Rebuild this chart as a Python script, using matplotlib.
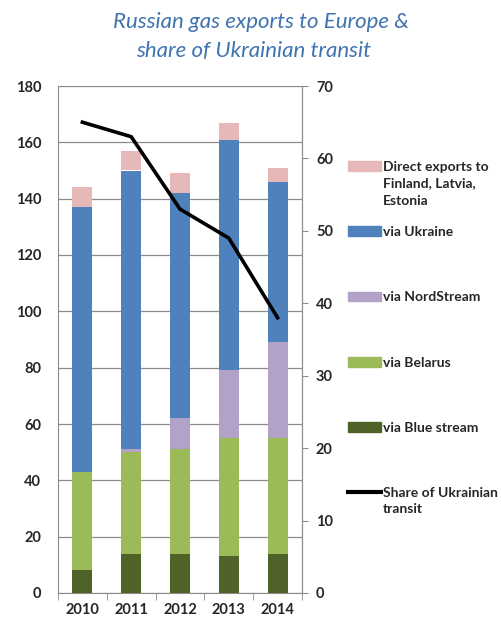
import matplotlib
matplotlib.use("Agg")
import matplotlib.pyplot as plt
from matplotlib.patches import Patch
from matplotlib.lines import Line2D

plt.rcParams['font.family'] = ['Lato', 'DejaVu Sans']

years = ['2010', '2011', '2012', '2013', '2014']
# bcm
blue_stream = [8, 14, 14, 13, 14]
belarus = [35, 36, 37, 42, 41]
nordstream = [0, 1, 11, 24, 34]
ukraine = [94, 99, 80, 82, 57]
direct = [7, 7, 7, 6, 5]
# share of Ukrainian transit, % (right axis)
share_ukraine = [65, 63, 53, 49, 38]

series = [
    (blue_stream, '#4F6228', 'via Blue stream'),
    (belarus, '#9BBB59', 'via Belarus'),
    (nordstream, '#B3A2C7', 'via NordStream'),
    (ukraine, '#4F81BD', 'via Ukraine'),
    (direct, '#E6B9B8', 'Direct exports to'),
]

fig = plt.figure(figsize=(5.02, 6.19), dpi=100)
ax = fig.add_axes([58 / 502, 1 - 593 / 619, 244 / 502, 507 / 619])
ax2 = ax.twinx()

x = list(range(len(years)))
bottom = [0] * len(years)
for vals, col, lab in series:
    ax.bar(x, vals, width=0.41, bottom=bottom, color=col, zorder=3)
    bottom = [b + v for b, v in zip(bottom, vals)]

ax2.plot(x, share_ukraine, color='black', lw=2.6, zorder=4)

grid_col = '#8C8C8C'
ax.set_xlim(-0.5, 4.5)
ax.set_ylim(0, 180)
ax.set_yticks(range(0, 181, 20))
ax.yaxis.grid(True, color=grid_col, lw=0.9, zorder=0)
ax.set_axisbelow(True)
ax.set_xticks(x)
ax.set_xticklabels(years)
ax.set_xticks([i - 0.5 for i in range(len(years) + 1)], minor=True)
ax.tick_params(axis='x', which='major', length=0, pad=7)
ax.tick_params(axis='x', which='minor', length=5, color=grid_col)
ax.tick_params(axis='y', length=0, pad=12)
ax2.set_ylim(0, 70)
ax2.set_yticks(range(0, 71, 10))
ax2.tick_params(axis='y', length=4, color=grid_col, pad=6)

for a in (ax, ax2):
    a.spines['top'].set_visible(False)
    for s in ('left', 'right', 'bottom'):
        a.spines[s].set_color(grid_col)
    for lab in a.get_xticklabels() + a.get_yticklabels():
        lab.set_fontsize(10.5)
        lab.set_color('#262626')
        lab.set_fontweight('bold')
ax2.spines['left'].set_visible(False)
ax2.spines['bottom'].set_visible(False)

fig.text(0.52, 0.965, 'Russian gas exports to Europe &', ha='center', va='center',
         fontsize=16, style='italic', color='#3F74B0')
fig.text(0.506, 0.918, 'share of Ukrainian transit', ha='center', va='center',
         fontsize=16, style='italic', color='#3F74B0')

# legend, one entry per slot, top to bottom
entries = [Patch(color=c) for _, c, _ in series[::-1]]
labels = [l for _, _, l in series[::-1]]
entries.append(Line2D([], [], color='black', lw=3))
labels.append('Share of Ukrainian')
extra = ['Finland, Latvia,\nEstonia', '', '', '', '', 'transit']
lx = 348 / 502
for i, (h, lab) in enumerate(zip(entries, labels)):
    y = 1 - (167 + 65.2 * i) / 619
    fig.legend([h], [lab], loc='center left', bbox_to_anchor=(lx, y), frameon=False,
               borderpad=0, borderaxespad=0, handlelength=2.4, handleheight=0.7,
               handletextpad=0.12, labelcolor='#262626',
               prop={'weight': 'bold', 'size': 10})
    if extra[i]:
        fig.text(383 / 502, y - 10 / 619, extra[i], ha='left', va='top', fontsize=10,
                 fontweight='bold', color='#262626', linespacing=1.6)

fig.savefig('out.png', dpi=100)
